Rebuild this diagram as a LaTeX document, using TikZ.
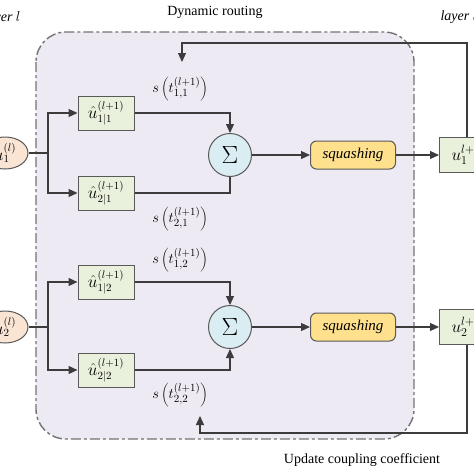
\documentclass[tikz,border=0pt]{standalone}
\usepackage{fontspec}
\setmainfont{Liberation Serif}
\usetikzlibrary{arrows.meta,shapes.geometric,calc}
\definecolor{boxgreen}{RGB}{233,240,219}
\definecolor{sigblue}{RGB}{218,237,243}
\definecolor{squash}{RGB}{255,224,140}
\definecolor{peach}{RGB}{250,228,212}
\definecolor{lav}{RGB}{237,234,243}
\definecolor{lc}{RGB}{60,60,60}
\begin{document}
\begin{tikzpicture}[x=1pt,y=-1pt,
 font=\fontsize{14}{16}\selectfont,
 line/.style={draw=lc,line width=1.1pt},
 arr/.style={line,-{Triangle[length=9pt,width=8pt]}},
 ubox/.style={draw=black!65,line width=1pt,fill=boxgreen,minimum width=56pt,minimum height=34pt,inner sep=0pt,font=\fontsize{16}{18}\selectfont},
 obox/.style={draw=black!65,line width=1pt,fill=boxgreen,anchor=west,text width=46pt,inner xsep=12pt,minimum height=35pt,align=left,font=\fontsize{17}{19}\selectfont},
 sig/.style={circle,draw=black!65,line width=1pt,fill=sigblue,minimum size=43pt,inner sep=0pt,font=\fontsize{26}{28}\selectfont},
 sq/.style={rounded corners=6pt,draw=black!65,line width=1pt,fill=squash,minimum width=85pt,minimum height=28pt,inner sep=0pt,font=\fontsize{15}{17}\selectfont\itshape},
 ell/.style={ellipse,draw=black!65,line width=1pt,fill=peach,minimum width=46pt,minimum height=32pt,inner sep=0pt,font=\fontsize{16}{18}\selectfont},
 lab/.style={font=\fontsize{15}{17}\selectfont},
 frame/.style={draw=black!55,line width=1.4pt,dash pattern=on 10pt off 3pt on 3pt off 3pt,fill=lav,rounded corners=30pt}
]
\useasboundingbox (0,0) rectangle (474,474);
\fill[white] (0,0) rectangle (474,474);
\path[frame] (36,32) rectangle (414,439);

\node (title) at (215,12) {Dynamic routing};
\node[anchor=east,font=\fontsize{14}{16}\selectfont\itshape] (lyl) at (24,18) {layer $l$};
\node[anchor=west,font=\fontsize{14}{16}\selectfont\itshape] (lyr) at (437,17) {layer $l+1$};
\node (upd) at (362,460) {Update coupling coefficient};

% group 1
\node[ell] (e1) at (5,153) {$u^{(l)}_{1}$};
\node[ubox] (u11) at (106,113) {$\hat{u}^{(l+1)}_{1|1}$};
\node[ubox] (u21) at (106,193) {$\hat{u}^{(l+1)}_{2|1}$};
\node[sig] (s1) at (230,155) {$\Sigma$};
\node[sq] (q1) at (353,155) {squashing};
\node[obox] (o1) at (439,155) {$u^{l+1}_{1}$};
\node[lab] (l11) at (180,89) {$s\left(t^{(l+1)}_{1,1}\right)$};
\node[lab] (l21) at (180,219) {$s\left(t^{(l+1)}_{2,1}\right)$};

% group 2
\node[ell] (e2) at (5,327) {$u^{(l)}_{2}$};
\node[ubox] (u12) at (106,282) {$\hat{u}^{(l+1)}_{1|2}$};
\node[ubox] (u22) at (106,370) {$\hat{u}^{(l+1)}_{2|2}$};
\node[sig] (s2) at (230,327) {$\Sigma$};
\node[sq] (q2) at (353,327) {squashing};
\node[obox] (o2) at (439,327) {$u^{l+1}_{2}$};
\node[lab] (l12) at (180,260) {$s\left(t^{(l+1)}_{1,2}\right)$};
\node[lab] (l22) at (180,395) {$s\left(t^{(l+1)}_{2,2}\right)$};

\coordinate (j1) at (48,153);
\coordinate (j2) at (48,327);
\coordinate (t1) at (467,43);
\coordinate (t3) at (182,62);
\coordinate (b1) at (467,433);
\coordinate (b3) at (200,416);

\draw[line] (e1.east) -- (j1);
\draw[arr] (j1) |- (u11.west);
\draw[arr] (j1) |- (u21.west);
\draw[arr] (u11.east) -| (s1.north);
\draw[line] (u21.east) -| (s1.south);
\draw[arr] (s1.east) -- (q1.west);
\draw[arr] (q1.east) -- (o1.west);

\draw[line] (e2.east) -- (j2);
\draw[arr] (j2) |- (u12.west);
\draw[arr] (j2) |- (u22.west);
\draw[arr] (u12.east) -| (s2.north);
\draw[arr] (u22.east) -| (s2.south);
\draw[arr] (s2.east) -- (q2.west);
\draw[arr] (q2.east) -- (o2.west);

\draw[arr] (o1.north -| t1) -- (t1) -- (t1 -| t3) -- (t3);
\draw[arr] (o2.south -| b1) -- (b1) -- (b1 -| b3) -- (b3);
\end{tikzpicture}
\end{document}
